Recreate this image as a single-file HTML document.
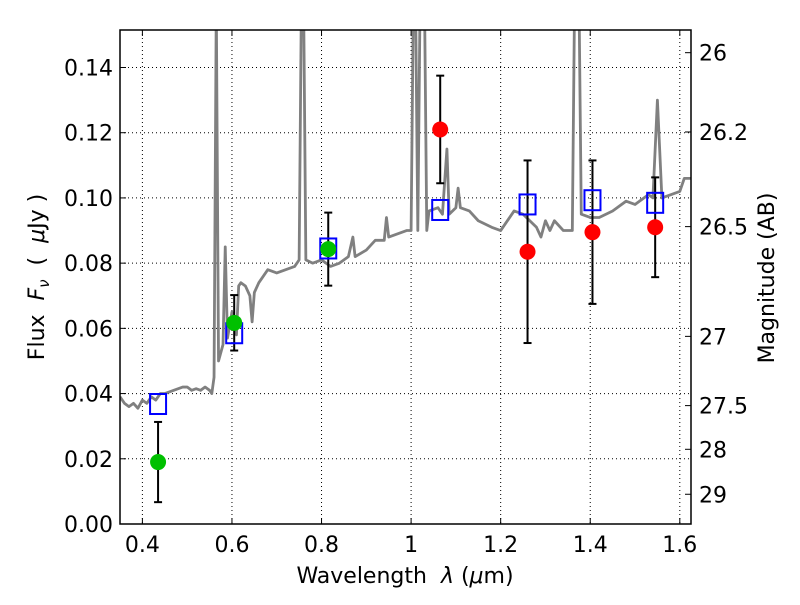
<!DOCTYPE html>
<html><head><meta charset="utf-8"><style>
body{margin:0;background:#fff;position:relative;}
svg text{font-family:"DejaVu Sans","Liberation Sans",sans-serif;fill:#000;}
</style></head><body>
<svg id="chart" width="800" height="600">
<g id="grid"></g>
<g id="spec"></g>
<g id="marks"></g>
<g id="axes"></g>
</svg>
<script>
const specLam=[0.35,0.36,0.37,0.38,0.39,0.40,0.41,0.42,0.43,0.44,0.45,0.47,0.49,0.50,0.51,0.52,0.53,0.54,0.55,0.555,0.56,0.565,0.57,0.58,0.585,0.59,0.60,0.61,0.615,0.62,0.63,0.64,0.645,0.65,0.66,0.68,0.70,0.72,0.74,0.75,0.755,0.76,0.765,0.78,0.80,0.82,0.84,0.86,0.87,0.875,0.90,0.92,0.94,0.945,0.95,0.97,0.99,1.0,1.005,1.01,1.015,1.02,1.03,1.035,1.04,1.06,1.07,1.08,1.085,1.10,1.105,1.11,1.13,1.15,1.18,1.20,1.23,1.25,1.28,1.29,1.30,1.31,1.32,1.34,1.36,1.365,1.375,1.38,1.40,1.42,1.45,1.48,1.50,1.53,1.54,1.55,1.56,1.58,1.60,1.61,1.625];
const specFlux=[0.039,0.037,0.036,0.037,0.0355,0.038,0.037,0.039,0.038,0.040,0.040,0.041,0.042,0.042,0.041,0.0415,0.041,0.042,0.041,0.040,0.045,0.16,0.05,0.055,0.085,0.057,0.065,0.058,0.073,0.074,0.073,0.070,0.062,0.071,0.074,0.078,0.077,0.078,0.079,0.081,0.16,0.16,0.081,0.080,0.081,0.079,0.080,0.082,0.088,0.082,0.084,0.087,0.087,0.094,0.088,0.089,0.090,0.090,0.16,0.16,0.090,0.16,0.16,0.090,0.096,0.097,0.095,0.115,0.095,0.097,0.103,0.097,0.096,0.093,0.091,0.090,0.096,0.095,0.091,0.088,0.093,0.090,0.093,0.090,0.090,0.16,0.16,0.095,0.094,0.094,0.096,0.099,0.098,0.101,0.100,0.130,0.100,0.101,0.102,0.106,0.106];
const modelLam=[0.435,0.605,0.815,1.065,1.26,1.405,1.545];
const modelFlux=[0.0368,0.0585,0.0845,0.0963,0.098,0.0993,0.0985];
const greenLam=[0.435,0.605,0.815];
const greenFlux=[0.019,0.0617,0.0843];
const greenErr=[0.0123,0.0085,0.0112];
const redLam=[1.065,1.26,1.405,1.545];
const redFlux=[0.121,0.0835,0.0895,0.091];
const redErr=[0.0165,0.028,0.022,0.0153];
const xTicks=[0.4,0.6,0.8,1.0,1.2,1.4,1.6];
const xTickLabels=["0.4","0.6","0.8","1","1.2","1.4","1.6"];
const yTicks=[0,0.02,0.04,0.06,0.08,0.10,0.12,0.14];
const yTickLabels=["0.00","0.02","0.04","0.06","0.08","0.10","0.12","0.14"];
const magTicks=[26,26.2,26.5,27,27.5,28,29];
const magLabels=["26","26.2","26.5","27","27.5","28","29"];

const L=120,R=691,T=30,B=524,x0=0.35,x1=1.625,y0=0,y1=0.1515;
const sx=v=>L+(v-x0)/(x1-x0)*(R-L);
const sy=v=>B-(v-y0)/(y1-y0)*(B-T);
const NS="http://www.w3.org/2000/svg";
function mk(tag,attrs,parent){const e=document.createElementNS(NS,tag);for(const k in attrs)e.setAttribute(k,attrs[k]);parent.appendChild(e);return e;}
const grid=document.getElementById('grid'),spec=document.getElementById('spec'),marks=document.getElementById('marks'),axes=document.getElementById('axes');
xTicks.forEach((t,i)=>{
  const g=mk('line',{x1:sx(t),x2:sx(t),y1:T,y2:B,stroke:'#000','stroke-width':1,'stroke-dasharray':'1,3'},grid);
  
  mk('line',{x1:sx(t),x2:sx(t),y1:B,y2:B-6,stroke:'#000'},axes);
  mk('line',{x1:sx(t),x2:sx(t),y1:T,y2:T+6,stroke:'#000'},axes);
  const tx=mk('text',{x:sx(t),y:B+28,'text-anchor':'middle','font-size':22},axes);tx.textContent=xTickLabels[i];
  
});
yTicks.forEach((t,i)=>{
  const g=mk('line',{x1:L,x2:R,y1:sy(t),y2:sy(t),stroke:'#000','stroke-width':1,'stroke-dasharray':'1,3'},grid);
  
  mk('line',{x1:L,x2:L+6,y1:sy(t),y2:sy(t),stroke:'#000'},axes);
  const tx=mk('text',{x:L-7,y:sy(t)+8,'text-anchor':'end','font-size':22},axes);tx.textContent=yTickLabels[i];
  
});
magTicks.forEach((m,i)=>{
  const f=Math.pow(10,(23.9-m)/2.5);
  mk('line',{x1:R,x2:R-6,y1:sy(f),y2:sy(f),stroke:'#000'},axes);
  const tx=mk('text',{x:R+8,y:sy(f)+8,'text-anchor':'start','font-size':22},axes);tx.textContent=magLabels[i];
  
});
const cp=mk('clipPath',{id:'clip'},document.getElementById('chart'));
mk('rect',{x:L,y:T,width:R-L,height:B-T},cp);
const p=mk('polyline',{points:specLam.map((l,i)=>sx(l)+','+sy(specFlux[i])).join(' '),fill:'none',stroke:'#808080','stroke-width':2.8,'stroke-linejoin':'round','clip-path':'url(#clip)'},spec);

function errbar(l,f,e){
  mk('line',{x1:sx(l),x2:sx(l),y1:sy(f-e),y2:sy(f+e),stroke:'#000','stroke-width':2},marks);
  mk('line',{x1:sx(l)-4,x2:sx(l)+4,y1:sy(f-e),y2:sy(f-e),stroke:'#000','stroke-width':2},marks);
  mk('line',{x1:sx(l)-4,x2:sx(l)+4,y1:sy(f+e),y2:sy(f+e),stroke:'#000','stroke-width':2},marks);
}
greenLam.forEach((l,i)=>errbar(l,greenFlux[i],greenErr[i]));
redLam.forEach((l,i)=>errbar(l,redFlux[i],redErr[i]));
modelLam.forEach((l,i)=>{
  const r=mk('rect',{x:sx(l)-8,y:sy(modelFlux[i])-10,width:16,height:20,fill:'none',stroke:'#0000ff','stroke-width':2},marks);
  
});
greenLam.forEach((l,i)=>{
  const c=mk('circle',{cx:sx(l),cy:sy(greenFlux[i]),r:8,fill:'#00c000'},marks);
  
});
redLam.forEach((l,i)=>{
  const c=mk('circle',{cx:sx(l),cy:sy(redFlux[i]),r:8,fill:'#ff0000'},marks);
  
});
const fr=mk('rect',{x:L,y:T,width:R-L,height:B-T,fill:'none',stroke:'#000','stroke-width':1.5},axes);

</script>
<svg width="800" height="600" style="position:absolute;left:0;top:0;pointer-events:none">
<text x="405" y="583" text-anchor="middle" font-size="22" font-family="DejaVu Sans, sans-serif">Wavelength&#160;&#160;<tspan font-style="italic">λ</tspan> (<tspan font-style="italic">μ</tspan>m)</text>
<text transform="translate(44,277) rotate(-90)" text-anchor="middle" font-size="22" font-family="DejaVu Sans, sans-serif">Flux&#160;&#160;<tspan font-style="italic">F</tspan><tspan font-style="italic" font-size="15" dy="5">ν</tspan><tspan dy="-5">&#160;&#160;(&#160;&#160;</tspan><tspan font-style="italic">μ</tspan>Jy )</text>
<text transform="translate(774,278) rotate(-90)" text-anchor="middle" font-size="22" font-family="DejaVu Sans, sans-serif">Magnitude (AB)</text>
</svg>
</body></html>
